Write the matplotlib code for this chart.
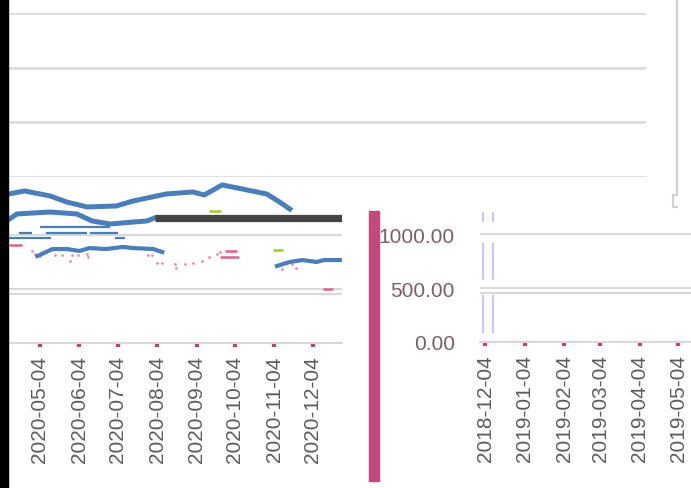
import numpy as np
import matplotlib
matplotlib.use("Agg")
from matplotlib import pyplot as plt
import matplotlib.dates as mdates
from matplotlib.patches import Rectangle
from matplotlib.lines import Line2D

plt.rcParams['font.family'] = ['Liberation Sans', 'DejaVu Sans']

# ---- data ----
left_ticks = ['2020-05-04', '2020-06-04', '2020-07-04', '2020-08-04',
              '2020-09-04', '2020-10-04', '2020-11-04', '2020-12-04']
right_ticks = ['2018-12-04', '2019-01-04', '2019-02-04', '2019-03-04',
               '2019-04-04', '2019-05-04']
right_yticks = [0, 500, 1000]

a_dates = ['2020-04-09', '2020-04-22', '2020-05-12', '2020-05-25', '2020-06-10',
           '2020-07-03', '2020-07-16', '2020-08-11', '2020-09-01', '2020-09-10',
           '2020-09-24', '2020-10-02', '2020-10-29', '2020-11-08', '2020-11-16']
a_vals = [1380, 1409, 1363, 1307, 1261, 1270, 1316, 1381, 1400, 1372,
          1465, 1446, 1381, 1307, 1242]

b_dates = ['2020-04-09', '2020-04-16', '2020-05-12', '2020-06-02', '2020-06-14',
           '2020-06-28', '2020-07-16', '2020-07-27', '2020-08-02']
b_vals = [1140, 1196, 1214, 1196, 1131, 1103, 1121, 1131, 1159]

flat_dates = ['2020-08-02', '2020-12-27']
flat_vals = [1159, 1159]

d_dates = ['2020-05-02', '2020-05-14', '2020-05-25', '2020-06-04', '2020-06-12',
           '2020-06-25', '2020-07-08', '2020-07-16', '2020-08-01', '2020-08-08']
d_vals = [806, 871, 871, 853, 880, 871, 890, 880, 871, 843]

e_dates = ['2020-11-06', '2020-11-16', '2020-11-26', '2020-12-07', '2020-12-13', '2020-12-27']
e_vals = [714, 751, 769, 751, 769, 769]

# thin fragments (start, end, value)
thin_start = ['2020-05-04', '2020-04-18', '2020-05-09', '2020-06-12', '2020-04-09', '2020-07-02']
thin_end = ['2020-06-28', '2020-04-28', '2020-06-10', '2020-07-04', '2020-05-13', '2020-07-10']
thin_vals = [1075, 1019, 1019, 1019, 973, 973]

pink_dates = ['2020-04-28', '2020-04-30', '2020-05-04', '2020-05-16', '2020-05-21',
              '2020-05-28', '2020-05-29', '2020-06-03', '2020-06-10', '2020-06-11',
              '2020-07-28', '2020-07-31', '2020-08-04', '2020-08-08', '2020-08-18',
              '2020-08-19', '2020-08-26', '2020-09-01', '2020-09-08', '2020-09-14',
              '2020-09-20', '2020-09-22', '2020-11-06', '2020-11-10', '2020-11-18',
              '2020-11-21']
pink_vals = [853, 825, 806, 816, 816, 760, 816, 816, 825, 797,
             816, 816, 742, 742, 732, 695, 732, 742, 760, 797,
             825, 844, 714, 686, 732, 695]

pdash_start = ['2020-04-10', '2020-09-26', '2020-09-22', '2020-12-12']
pdash_end = ['2020-04-20', '2020-10-06', '2020-10-07', '2020-12-20']
pdash_vals = [908, 853, 797, 500]

gdash_start = ['2020-09-14', '2020-11-03']
gdash_end = ['2020-09-23', '2020-11-11']
gdash_vals = [1224, 862]

marker_lines = ['2018-12-02', '2018-12-10']

d = lambda s: np.array(s, dtype='datetime64[D]')

W, H = 691, 489
def px(l, t, r, b):
    return [l / W, 1 - b / H, (r - l) / W, (b - t) / H]

fig = plt.figure(figsize=(6.91, 4.89), dpi=100)

grid_c = '#d9d9d9'
blue = '#4a7ebb'
tick_c = '#c0406f'
lab_c = '#5c5c5c'

# background panel with gridlines
ax_bg = fig.add_axes(px(8, 14, 646, 178))
ax_bg.set_ylim(0, 3)
ax_bg.set_yticks([0, 1, 2, 3])
ax_bg.grid(axis='y', color=grid_c, lw=1.8)
ax_bg.tick_params(left=False, bottom=False, labelleft=False, labelbottom=False)
ax_bg.set_xticks([])
for s in ax_bg.spines.values():
    s.set_visible(False)

# left chart
ax = fig.add_axes(px(8, 180, 342, 344))
ax.set_xlim(d('2020-04-09'), d('2020-12-27'))
ax.set_ylim(0, 1520)
ax.set_yticks([500, 1000])
ax.grid(axis='y', color=grid_c, lw=1.5)
ax.axhline(450, color=grid_c, lw=1.5)
ax.plot(d(a_dates), a_vals, color=blue, lw=3.6)
ax.plot(d(b_dates), b_vals, color=blue, lw=3.6)
ax.plot(d(flat_dates), flat_vals, color='#454545', lw=5.2, solid_capstyle='butt')
ax.plot(d(d_dates), d_vals, color=blue, lw=3.0)
ax.plot(d(e_dates), e_vals, color=blue, lw=3.0)
ax.hlines(thin_vals, d(thin_start), d(thin_end), color=blue, lw=1.6)
ax.scatter(d(pink_dates), pink_vals, s=4, color='#f08aa8', lw=0)
ax.hlines(pdash_vals, d(pdash_start), d(pdash_end), color='#e0608a', lw=1.8)
ax.hlines(gdash_vals, d(gdash_start), d(gdash_end), color='#9acd32', lw=1.8)
ax.set_xticks(d(left_ticks))
ax.xaxis.set_major_formatter(mdates.DateFormatter('%Y-%m-%d'))
ax.tick_params(axis='x', length=3, width=3, color=tick_c, pad=6,
               labelrotation=90, labelsize=15, labelcolor=lab_c)
ax.tick_params(axis='y', left=False, labelleft=False)
for k in ['top', 'right', 'left']:
    ax.spines[k].set_visible(False)
ax.spines['bottom'].set_color(grid_c)
ax.spines['bottom'].set_linewidth(1.5)
ax.patch.set_alpha(0)

# right chart
ax_r = fig.add_axes(px(480, 212, 710, 343))
ax_r.set_xlim(d('2018-11-30'), d('2019-05-29'))
ax_r.set_ylim(0, 1215)
ax_r.set_yticks(right_yticks)
ax_r.yaxis.set_major_formatter(matplotlib.ticker.FormatStrFormatter('%.2f'))
ax_r.grid(axis='y', color=grid_c, lw=1.5)
ax_r.axhline(450, color=grid_c, lw=1.5)
ax_r.vlines(d(marker_lines), 1111, 1204, color='#c8c8f0', lw=1.5)
ax_r.vlines(d(marker_lines), 574, 917, color='#c8c8f0', lw=1.5)
ax_r.vlines(d(marker_lines), 83, 435, color='#c8c8f0', lw=1.5)
ax_r.set_xticks(d(right_ticks))
ax_r.xaxis.set_major_formatter(mdates.DateFormatter('%Y-%m-%d'))
ax_r.tick_params(axis='x', length=3, width=3, color=tick_c, pad=6,
                 labelrotation=90, labelsize=15, labelcolor=lab_c)
ax_r.tick_params(axis='y', length=0, pad=18, labelsize=15, labelcolor='#7a5f68')
for k in ['top', 'right', 'left']:
    ax_r.spines[k].set_visible(False)
ax_r.spines['bottom'].set_color(grid_c)
ax_r.spines['bottom'].set_linewidth(1.5)
ax_r.patch.set_alpha(0)

# frame pieces, black strip and pink bar
fig.add_artist(Line2D(np.array([677, 677, 673, 673, 677]) / W,
                      1 - np.array([0, 196, 196, 208, 208]) / H,
                      color='#d0d0d0', lw=1.5))
fig.add_artist(Rectangle((0, 0), 8 / W, 1, color='black', zorder=5))
fig.add_artist(Rectangle((369 / W, 1 - 482 / H), 10 / W, 270 / H,
                         color='#c4487c', zorder=5))

fig.savefig("out.png", dpi=100)
